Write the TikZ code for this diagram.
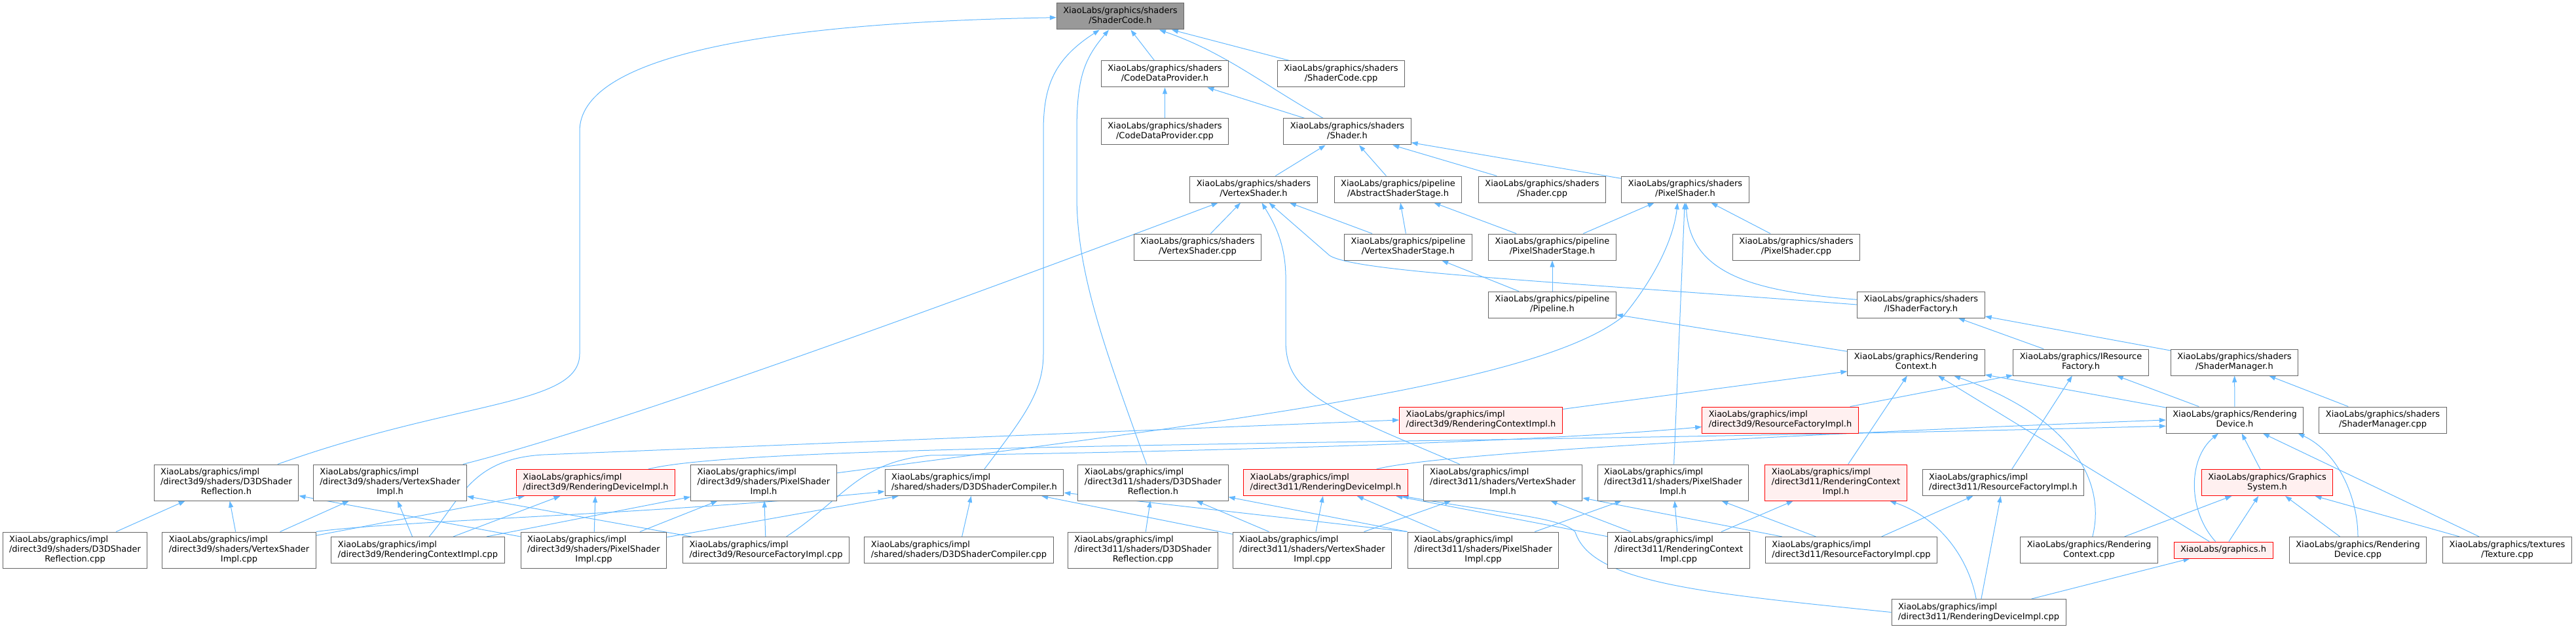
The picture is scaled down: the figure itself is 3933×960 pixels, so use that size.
\documentclass[tikz,border=0pt]{standalone}
\usepackage{fontspec}
\setmainfont{DejaVu Sans}
\usepackage{xcolor}
\usepackage{tikz}
\usetikzlibrary{positioning, arrows.meta, backgrounds}
\definecolor{linkblue}{HTML}{63B8FF}
\definecolor{frame}{HTML}{666666}
\definecolor{rootfill}{HTML}{999999}
\definecolor{cutred}{HTML}{FF0000}
\definecolor{cutfill}{HTML}{FFF0F0}
\newcommand{\fpath}[2]{\begin{tabular}{@{}l@{}}#1\\\multicolumn{1}{@{}c@{}}{#2}\end{tabular}}
\tikzset{
  file/.style={draw=frame, line width=1pt, fill=white, font=\fontsize{13}{15}\selectfont, inner xsep=10pt, inner ysep=5pt},
  rootfile/.style={file, fill=rootfill},
  cutfile/.style={file, draw=cutred, fill=cutfill},
  incl/.style={-{Triangle[length=10pt, width=7pt]}, line width=1pt, draw=linkblue},
}

\begin{document}
\begin{tikzpicture}[x=1pt, y=-1pt]
  \useasboundingbox (0,0) rectangle (3933,960);

  % the header and its direct includers
  \node[rootfile] (code) at (1710.5,25) {\fpath{XiaoLabs/graphics/shaders}{/ShaderCode.h}};
  \node[file] (cdph) at (1778.5,113) {\fpath{XiaoLabs/graphics/shaders}{/CodeDataProvider.h}};
  \node[file] (sccpp) at (2047.5,113) {\fpath{XiaoLabs/graphics/shaders}{/ShaderCode.cpp}};
  \node[file] (cdpcpp) at (1778.5,201) {\fpath{XiaoLabs/graphics/shaders}{/CodeDataProvider.cpp}};
  \node[file] (shader) at (2057,201) {\fpath{XiaoLabs/graphics/shaders}{/Shader.h}};

  % shader and pipeline headers
  \node[file] (vs) at (1914,289) {\fpath{XiaoLabs/graphics/shaders}{/VertexShader.h}};
  \node[file] (ass) at (2134.5,289) {\fpath{XiaoLabs/graphics/pipeline}{/AbstractShaderStage.h}};
  \node[file] (shcpp) at (2354.5,289) {\fpath{XiaoLabs/graphics/shaders}{/Shader.cpp}};
  \node[file] (ps) at (2573,289) {\fpath{XiaoLabs/graphics/shaders}{/PixelShader.h}};
  \node[file] (vscpp) at (1828.5,377) {\fpath{XiaoLabs/graphics/shaders}{/VertexShader.cpp}};
  \node[file] (vss) at (2150,377) {\fpath{XiaoLabs/graphics/pipeline}{/VertexShaderStage.h}};
  \node[file] (pss) at (2370,377) {\fpath{XiaoLabs/graphics/pipeline}{/PixelShaderStage.h}};
  \node[file] (pscpp) at (2742.5,377) {\fpath{XiaoLabs/graphics/shaders}{/PixelShader.cpp}};
  \node[file] (pipe) at (2370,465) {\fpath{XiaoLabs/graphics/pipeline}{/Pipeline.h}};
  \node[file] (isf) at (2933,465) {\fpath{XiaoLabs/graphics/shaders}{/IShaderFactory.h}};

  % rendering interfaces
  \node[file] (rctx) at (2925.5,553) {\fpath{XiaoLabs/graphics/Rendering}{Context.h}};
  \node[file] (irf) at (3177,553) {\fpath{XiaoLabs/graphics/IResource}{Factory.h}};
  \node[file] (smh) at (3411.5,553) {\fpath{XiaoLabs/graphics/shaders}{/ShaderManager.h}};
  \node[cutfile] (rcih9) at (2261,641) {\fpath{XiaoLabs/graphics/impl}{/direct3d9/RenderingContextImpl.h}};
  \node[cutfile] (rfih9) at (2718,641) {\fpath{XiaoLabs/graphics/impl}{/direct3d9/ResourceFactoryImpl.h}};
  \node[file] (rdev) at (3412,641) {\fpath{XiaoLabs/graphics/Rendering}{Device.h}};
  \node[file] (smcpp) at (3638,641) {\fpath{XiaoLabs/graphics/shaders}{/ShaderManager.cpp}};

  % implementation headers
  \node[file] (refl9) at (345.5,736.5) {\fpath{XiaoLabs/graphics/impl\\/direct3d9/shaders/D3DShader}{Reflection.h}};
  \node[file] (vsih9) at (595.5,736.5) {\fpath{XiaoLabs/graphics/impl\\/direct3d9/shaders/VertexShader}{Impl.h}};
  \node[cutfile] (rdih9) at (909.5,736.5) {\fpath{XiaoLabs/graphics/impl}{/direct3d9/RenderingDeviceImpl.h}};
  \node[file] (psih9) at (1166,736.5) {\fpath{XiaoLabs/graphics/impl\\/direct3d9/shaders/PixelShader}{Impl.h}};
  \node[file] (comp) at (1487.5,736.5) {\fpath{XiaoLabs/graphics/impl}{/shared/shaders/D3DShaderCompiler.h}};
  \node[file] (refl11) at (1760.5,736.5) {\fpath{XiaoLabs/graphics/impl\\/direct3d11/shaders/D3DShader}{Reflection.h}};
  \node[cutfile] (rdih11) at (2024,736.5) {\fpath{XiaoLabs/graphics/impl}{/direct3d11/RenderingDeviceImpl.h}};
  \node[file] (vsih11) at (2294.5,736.5) {\fpath{XiaoLabs/graphics/impl\\/direct3d11/shaders/VertexShader}{Impl.h}};
  \node[file] (psih11) at (2554.5,736.5) {\fpath{XiaoLabs/graphics/impl\\/direct3d11/shaders/PixelShader}{Impl.h}};
  \node[cutfile] (rcih11) at (2803,736.5) {\fpath{XiaoLabs/graphics/impl\\/direct3d11/RenderingContext}{Impl.h}};
  \node[file] (rfih11) at (3058.5,736.5) {\fpath{XiaoLabs/graphics/impl}{/direct3d11/ResourceFactoryImpl.h}};
  \node[cutfile] (gsys) at (3461.5,736.5) {\fpath{XiaoLabs/graphics/Graphics}{System.h}};

  % sources
  \node[file] (reflcpp9) at (114.5,839.5) {\fpath{XiaoLabs/graphics/impl\\/direct3d9/shaders/D3DShader}{Reflection.cpp}};
  \node[file] (vsicpp9) at (365,839.5) {\fpath{XiaoLabs/graphics/impl\\/direct3d9/shaders/VertexShader}{Impl.cpp}};
  \node[file] (rcicpp9) at (638,839.5) {\fpath{XiaoLabs/graphics/impl}{/direct3d9/RenderingContextImpl.cpp}};
  \node[file] (psicpp9) at (906.5,839.5) {\fpath{XiaoLabs/graphics/impl\\/direct3d9/shaders/PixelShader}{Impl.cpp}};
  \node[file] (rficpp9) at (1169.5,839.5) {\fpath{XiaoLabs/graphics/impl}{/direct3d9/ResourceFactoryImpl.cpp}};
  \node[file] (compcpp) at (1464,839.5) {\fpath{XiaoLabs/graphics/impl}{/shared/shaders/D3DShaderCompiler.cpp}};
  \node[file] (reflcpp11) at (1745,839.5) {\fpath{XiaoLabs/graphics/impl\\/direct3d11/shaders/D3DShader}{Reflection.cpp}};
  \node[file] (vsicpp11) at (2003.5,839.5) {\fpath{XiaoLabs/graphics/impl\\/direct3d11/shaders/VertexShader}{Impl.cpp}};
  \node[file] (psicpp11) at (2264.5,839.5) {\fpath{XiaoLabs/graphics/impl\\/direct3d11/shaders/PixelShader}{Impl.cpp}};
  \node[file] (rcicpp11) at (2563,839.5) {\fpath{XiaoLabs/graphics/impl\\/direct3d11/RenderingContext}{Impl.cpp}};
  \node[file] (rficpp11) at (2826.5,839.5) {\fpath{XiaoLabs/graphics/impl}{/direct3d11/ResourceFactoryImpl.cpp}};
  \node[file] (rctxcpp) at (3189.5,839.5) {\fpath{XiaoLabs/graphics/Rendering}{Context.cpp}};
  \node[cutfile] (gfx) at (3394.5,839.5) {\begin{tabular}{@{}c@{}}XiaoLabs/graphics.h\end{tabular}};
  \node[file] (rdevcpp) at (3600,839.5) {\fpath{XiaoLabs/graphics/Rendering}{Device.cpp}};
  \node[file] (tex) at (3828,839.5) {\fpath{XiaoLabs/graphics/textures}{/Texture.cpp}};
  \node[file] (rdicpp11) at (3021,934.5) {\fpath{XiaoLabs/graphics/impl}{/direct3d11/RenderingDeviceImpl.cpp}};

  \begin{scope}[on background layer]
    % into the header
    \draw[incl] (cdph) -- (code);
    \draw[incl] (sccpp) -- (code);
    \draw[incl] (shader) .. controls (1930,130) and (1870,80) .. (code);
    \draw[incl] (comp) .. controls (1560,640) and (1593,600) .. (1593,540) -- (1593,200) .. controls (1593,130) and (1610,90) .. (code);
    \draw[incl] (refl11) .. controls (1690,540) and (1644,420) .. (1644,300) -- (1644,200) .. controls (1644,120) and (1655,90) .. (code);
    \draw[incl] (refl9) .. controls (700,610) and (885,620) .. (885,540) -- (885,200) .. controls (885,90) and (1150,35) .. (code);

    % shaders
    \draw[incl] (cdpcpp) -- (cdph);
    \draw[incl] (shader) -- (cdph);
    \draw[incl] (vs) -- (shader);
    \draw[incl] (ass) -- (shader);
    \draw[incl] (shcpp) -- (shader);
    \draw[incl] (ps) -- (shader);
    \draw[incl] (vscpp) -- (vs);
    \draw[incl] (vss) -- (vs);
    \draw[incl] (vsih9) .. controls (900,660) and (1300,520) .. (vs);
    \draw[incl] (vsih11) .. controls (2020,620) and (1963,600) .. (1963,520) -- (1963,420) .. controls (1962,370) and (1945,340) .. (vs);
    \draw[incl] (isf.west) .. controls (2350,428) and (2070,415) .. (2030,390) -- (vs);
    \draw[incl] (vss) -- (ass);
    \draw[incl] (pss) -- (ass);
    \draw[incl] (pss) -- (ps);
    \draw[incl] (pscpp) -- (ps);
    \draw[incl] (isf) .. controls (2680,445) and (2580,420) .. (ps);
    \draw[incl] (psih11) -- (ps);
    \draw[incl] (psih9) .. controls (1900,640) and (2350,585) .. (2478,483) .. controls (2530,420) and (2556,360) .. (ps.240);

    % pipeline and interfaces
    \draw[incl] (pipe) -- (vss);
    \draw[incl] (pipe) -- (pss);
    \draw[incl] (rctx) -- (pipe);
    \draw[incl] (smh) -- (isf);
    \draw[incl] (irf) -- (isf);
    \draw[incl] (rcih9) -- (rctx);
    \draw[incl] (rcih11) -- (rctx);
    \draw[incl] (rdev) -- (rctx);
    \draw[incl] (rctxcpp) .. controls (3215,740) and (3170,640) .. (rctx);
    \draw[incl] (gfx) -- (rctx);
    \draw[incl] (rfih9) -- (irf);
    \draw[incl] (rfih11) -- (irf);
    \draw[incl] (rdev) -- (irf);
    \draw[incl] (rdev) -- (smh);
    \draw[incl] (smcpp) -- (smh);

    % device and graphics system
    \draw[incl] (rdih9) .. controls (1150,675) and (2200,680) .. (rdev.185);
    \draw[incl] (rdih11) .. controls (2200,690) and (2800,660) .. (rdev.west);
    \draw[incl] (gsys) -- (rdev);
    \draw[incl] (gfx) .. controls (3340,780) and (3340,700) .. (rdev);
    \draw[incl] (rdevcpp) .. controls (3600,760) and (3570,690) .. (rdev.-12);
    \draw[incl] (tex) -- (rdev);
    \draw[incl] (rctxcpp) -- (gsys);
    \draw[incl] (gfx) -- (gsys);
    \draw[incl] (rdevcpp) -- (gsys);
    \draw[incl] (tex) -- (gsys);
    \draw[incl] (rdicpp11) -- (gfx);

    % direct3d9 sources
    \draw[incl] (reflcpp9) -- (refl9);
    \draw[incl] (vsicpp9) -- (refl9);
    \draw[incl] (vsicpp9) -- (vsih9);
    \draw[incl] (vsicpp9) -- (rdih9);
    \draw[incl] (vsicpp9.north east) .. controls (600,795) and (1000,785) .. (comp);
    \draw[incl] (psicpp9) -- (refl9);
    \draw[incl] (psicpp9) -- (rdih9);
    \draw[incl] (psicpp9) -- (psih9);
    \draw[incl] (psicpp9) -- (comp);
    \draw[incl] (rcicpp9) -- (vsih9);
    \draw[incl] (rcicpp9) -- (rdih9);
    \draw[incl] (rcicpp9) -- (psih9);
    \draw[incl] (rcicpp9) .. controls (705,760) and (720,700) .. (830,694) -- (rcih9.west);
    \draw[incl] (rficpp9) -- (vsih9);
    \draw[incl] (rficpp9) -- (psih9);
    \draw[incl] (rficpp9) .. controls (1290,760) and (1310,705) .. (1420,695) .. controls (1800,690) and (2350,675) .. (rfih9.185);

    % shared and direct3d11 sources
    \draw[incl] (compcpp) -- (comp);
    \draw[incl] (reflcpp11) -- (refl11);
    \draw[incl] (vsicpp11) -- (comp);
    \draw[incl] (vsicpp11) -- (refl11);
    \draw[incl] (vsicpp11) -- (rdih11);
    \draw[incl] (vsicpp11) -- (vsih11);
    \draw[incl] (psicpp11.north west) -- (comp);
    \draw[incl] (psicpp11.north west) -- (refl11);
    \draw[incl] (psicpp11) -- (rdih11);
    \draw[incl] (psicpp11) -- (psih11);
    \draw[incl] (rcicpp11) -- (rdih11);
    \draw[incl] (rcicpp11) -- (vsih11);
    \draw[incl] (rcicpp11) -- (psih11);
    \draw[incl] (rcicpp11) -- (rcih11);
    \draw[incl] (rficpp11) -- (vsih11);
    \draw[incl] (rficpp11) -- (psih11);
    \draw[incl] (rficpp11) -- (rfih11);
    \draw[incl] (rdicpp11.west) .. controls (2600,905) and (2430,890) .. (2405,812) .. controls (2385,790) and (2300,785) .. (rdih11);
    \draw[incl] (rdicpp11) .. controls (3005,850) and (2960,790) .. (rcih11);
    \draw[incl] (rdicpp11) -- (rfih11);
  \end{scope}
\end{tikzpicture}
\end{document}
